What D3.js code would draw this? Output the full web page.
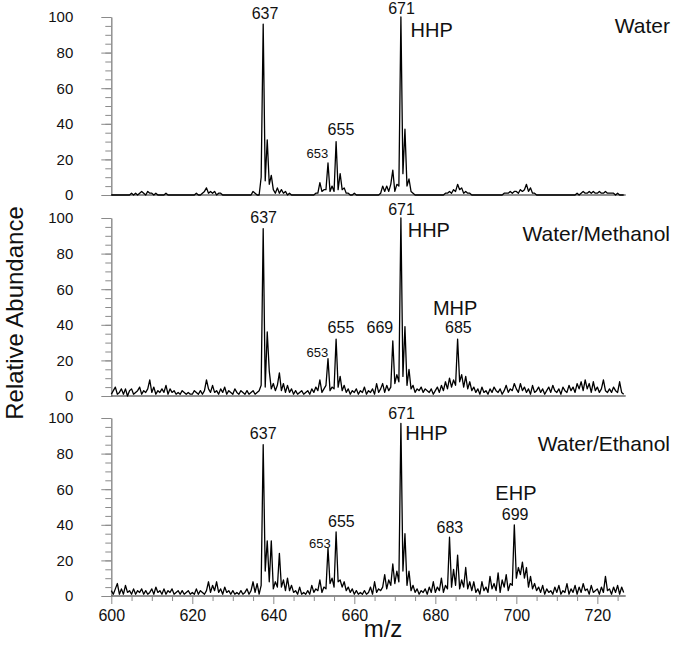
<!DOCTYPE html>
<meta charset="utf-8" />

<!-- Load d3.js -->
<script src="https://d3js.org/d3.v7.js"></script>

<style>
	body {
		margin: 0;
		background: white;
	}
	text {
		font-family: "Liberation Sans", Arial, sans-serif;
		fill: #111;
	}
</style>
<div id="chart"></div>

<script>
	// Spectra, one intensity every 0.5 m/z starting at 600
	const mzStart = 600;
	const mzStep = 0.5;

	const water = [
		0,0,0,0,0,0,0,0,0,0, 1,0,1,0,1,2,1,0,2,1,
		1,0,1,0,0,0,0,1,0,0, 0,0,0,0,0,0,0,0,0,0,
		0,0,1,0,0,1,2,4,1,2, 1,2,0,1,1,0,0,0,0,0,
		0,0,0,0,0,0,0,0,0,0, 2,1,0,0,10,96,8,31,6,11,
		3,1,4,1,3,1,2,0,1,0, 0,0,0,0,0,0,0,0,0,0,
		0,1,1,7,2,3,3,18,2,5, 2,30,3,12,3,4,1,1,0,0,
		1,0,0,0,0,0,0,0,0,0, 0,0,0,1,5,2,5,2,6,14,
		2,6,5,100,12,37,5,9,2,1, 0,0,0,0,0,0,0,0,0,0,
		0,0,0,0,0,1,1,2,1,3, 2,6,3,4,1,2,1,1,0,0,
		0,0,0,0,0,0,0,0,0,0, 0,0,0,0,1,1,1,2,1,2,
		2,1,3,2,3,6,2,4,1,1, 0,0,0,0,0,0,0,0,0,0,
		0,0,0,0,0,0,0,0,0,0, 1,0,1,2,1,1,2,1,2,1,
		1,2,1,1,2,1,1,1,1,0, 1,0,0,0
	];

	const waterMethanol = [
		1,3,5,1,2,4,1,4,0,3, 4,1,2,3,5,1,3,2,4,9,
		2,5,1,3,2,4,2,6,1,4, 2,3,1,2,1,3,2,1,2,1,
		1,3,2,1,3,1,3,9,4,2, 6,2,3,1,4,2,5,1,3,2,
		1,4,2,1,3,2,1,3,1,2, 3,1,2,3,6,94,5,36,14,4,
		7,3,6,13,3,7,2,6,2,4, 1,3,1,2,3,1,2,3,1,4,
		2,5,3,9,2,4,6,21,3,5, 4,32,5,11,3,6,2,4,1,3,
		2,4,1,3,2,5,1,3,2,4, 1,7,2,4,7,2,6,3,5,31,
		7,12,8,100,11,39,6,15,4,6, 2,4,3,5,2,4,3,2,4,1,
		3,5,2,6,3,8,4,10,5,9, 6,32,8,12,5,11,4,8,3,5,
		2,4,1,5,2,3,1,4,2,5, 3,2,4,1,3,6,2,4,3,7,
		4,2,7,3,5,2,4,1,6,2, 3,5,2,4,1,3,5,2,6,3,
		2,4,1,5,3,2,6,3,5,2, 7,4,8,3,9,4,7,2,8,3,
		5,2,4,9,3,2,4,2,5,3, 2,8,2,1
	];

	const waterEthanol = [
		3,1,4,7,1,4,1,6,2,3, 1,4,1,3,2,4,1,3,1,2,
		4,1,5,2,3,1,4,1,3,2, 4,1,2,3,1,3,1,2,3,1,
		2,1,4,1,3,2,1,3,8,2, 6,3,8,2,4,1,5,2,3,1,
		3,1,2,1,3,1,2,4,1,3, 8,2,7,1,6,85,14,31,8,31,
		4,8,5,24,5,9,3,10,3,6, 2,3,1,5,1,2,1,3,1,6,
		2,4,3,9,2,5,4,27,7,10, 5,36,8,9,5,8,3,5,2,4,
		1,3,1,2,1,3,1,2,5,1, 8,2,4,3,5,12,4,9,6,18,
		7,14,8,97,14,35,6,14,3,6, 2,4,1,3,2,4,1,5,2,8,
		2,5,3,10,2,6,4,33,5,15, 6,23,4,9,5,16,4,8,3,8,
		2,4,1,8,3,5,2,11,4,7, 3,13,2,9,5,12,3,7,6,40,
		10,16,12,19,10,16,5,11,4,7, 3,5,2,6,1,4,2,3,1,5,
		2,6,1,3,2,7,1,4,2,6, 1,5,2,7,3,4,1,6,2,3,
		4,1,5,2,11,3,4,1,5,2, 6,1,5,2
	];

	const solvents = ["Water", "Water/Methanol", "Water/Ethanol"];

	// peak labels: text, m/z of label centre, abundance of label baseline
	const waterPeaks = [
		["637", 637.95, 98.6], ["653", 650.9, 20.8], ["655", 656.7, 33.7],
		["671", 671.65, 101.7], ["HHP", 679.1, 88.8]
	];
	const methanolPeaks = [
		["637", 637.6, 97.2], ["653", 650.9, 21.9], ["655", 656.7, 35.4],
		["669", 666.3, 35.4], ["671", 671.65, 101.7], ["HHP", 678.4, 89.3],
		["MHP", 684.9, 45.5], ["685", 685.7, 35.4]
	];
	const ethanolPeaks = [
		["637", 637.5, 88.2], ["653", 651.5, 27.2], ["655", 656.8, 38.8],
		["671", 671.65, 99.4], ["HHP", 677.8, 87.6], ["683", 683.6, 35.4],
		["EHP", 699.9, 53.9], ["699", 699.7, 42.7]
	];

	const yTicks = [0, 20, 40, 60, 80, 100];
	const xTicks = [600, 620, 640, 660, 680, 700, 720];

	// layout
	const width = 677;
	const height = 645;
	const panelTops = [17, 218, 418];
	const panelHeight = 178;
	const solventLabelX = 670;
	const solventLabelY = [33, 241, 451];
	const axisGrey = "#8a8a8a";

	const svg = d3
		.select("#chart")
		.append("svg")
		.attr("width", width)
		.attr("height", height);

	const x = d3.scaleLinear().domain([600, 727]).range([111.3, 625.7]);

	const spectra = [water, waterMethanol, waterEthanol];
	const peakSets = [waterPeaks, methanolPeaks, ethanolPeaks];

	spectra.forEach((values, p) => {
		const top = panelTops[p];
		const y = d3.scaleLinear().domain([0, 100]).range([top + panelHeight, top]);
		const g = svg.append("g");

		// minor y ticks every 5
		g.append("g")
			.attr("transform", "translate(" + x.range()[0] + ",0)")
			.call(
				d3.axisLeft(y)
					.tickValues(d3.range(0, 101, 5))
					.tickSize(6)
					.tickSizeOuter(0)
					.tickFormat("")
			)
			.call(a => a.selectAll("line,path").attr("stroke", axisGrey));

		// major y ticks with labels
		g.append("g")
			.attr("transform", "translate(" + x.range()[0] + ",0)")
			.call(d3.axisLeft(y).tickValues(yTicks).tickSize(10).tickSizeOuter(0).tickPadding(28))
			.call(a => a.selectAll("line,path").attr("stroke", axisGrey))
			.call(a =>
				a.selectAll("text")
					.style("font-size", "15px")
					.style("font-family", '"Liberation Sans", Arial, sans-serif')
					.attr("fill", "#111")
			);

		// baseline
		g.append("line")
			.attr("x1", x.range()[0])
			.attr("x2", x.range()[1])
			.attr("y1", y(0))
			.attr("y2", y(0))
			.attr("stroke", "#222")
			.attr("stroke-width", 1.2);

		// spectrum trace
		const line = d3
			.line()
			.x((d, i) => x(mzStart + i * mzStep))
			.y(d => y(d));

		g.append("path")
			.datum(values)
			.attr("fill", "none")
			.attr("stroke", "#000")
			.attr("stroke-width", 1.3)
			.attr("stroke-linejoin", "round")
			.attr("d", line);

		// peak labels
		g.selectAll(".peak")
			.data(peakSets[p])
			.enter()
			.append("text")
			.attr("class", "peak")
			.attr("x", d => x(d[1]))
			.attr("y", d => y(d[2]))
			.attr("text-anchor", "middle")
			.style("font-size", d => (/^[A-Z]/.test(d[0]) ? "20px" : d[0] === "653" ? "13px" : "16px"))
			.text(d => d[0]);

		// solvent name
		g.append("text")
			.attr("x", solventLabelX)
			.attr("y", solventLabelY[p])
			.attr("text-anchor", "end")
			.style("font-size", "21px")
			.text(solvents[p]);

		// x axis only on the bottom panel
		if (p === spectra.length - 1) {
			g.append("g")
				.attr("transform", "translate(0," + y(0) + ")")
				.call(
					d3.axisBottom(x)
						.tickValues(d3.range(600, 727, 5).filter(v => v % 20 !== 0))
						.tickSize(5)
						.tickSizeOuter(0)
						.tickFormat("")
				)
				.call(a => a.select(".domain").remove())
				.call(a => a.selectAll("line").attr("stroke", axisGrey));

			g.append("g")
				.attr("transform", "translate(0," + y(0) + ")")
				.call(d3.axisBottom(x).tickValues(xTicks).tickSize(8).tickSizeOuter(0).tickPadding(6))
				.call(a => a.select(".domain").remove())
				.call(a => a.selectAll("line").attr("stroke", axisGrey))
				.call(a =>
					a.selectAll("text")
						.style("font-size", "16px")
						.style("font-family", '"Liberation Sans", Arial, sans-serif')
						.attr("fill", "#111")
				);
		}
	});

	// axis titles
	svg.append("text")
		.attr("transform", "translate(23,313) rotate(-90)")
		.attr("text-anchor", "middle")
		.style("font-size", "24px")
		.text("Relative Abundance");

	svg.append("text")
		.attr("x", 383)
		.attr("y", 637)
		.attr("text-anchor", "middle")
		.style("font-size", "24px")
		.text("m/z");
</script>
